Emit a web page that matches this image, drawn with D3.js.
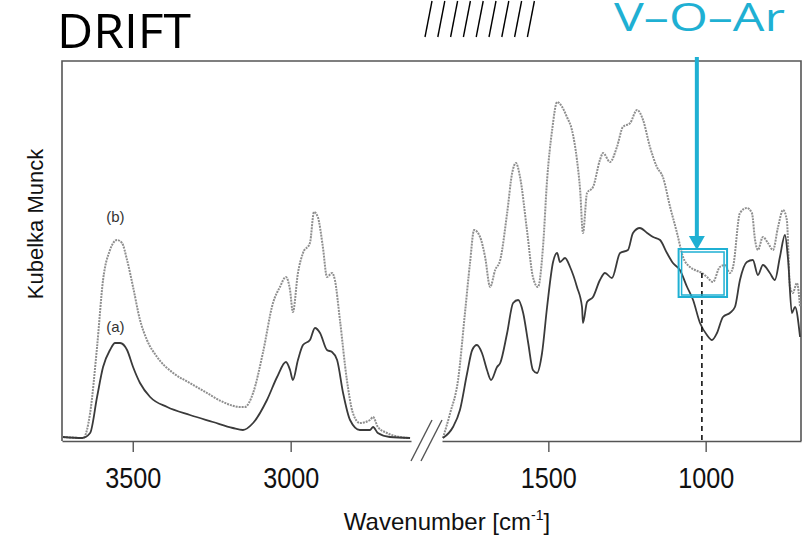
<!DOCTYPE html>
<html>
<head>
<meta charset="utf-8">
<script src="https://cdn.jsdelivr.net/npm/d3@7"></script>
<style>
  body { margin: 0; background: #fff; }
  svg { display: block; }
</style>
</head>
<body>
<svg id="chart" width="807" height="540"></svg>
<script>
// --- data (wavenumber in cm-1, Kubelka Munck in a.u.) ---
// high wavenumber panel
const leftWnA = [3721, 3660, 3635, 3613, 3594, 3572, 3556, 3540, 3518, 3499, 3477, 3445, 3391, 3319, 3246, 3183, 3151, 3119, 3075, 3043, 3015, 3002, 2993, 2977, 2961, 2939, 2923, 2907, 2885, 2869, 2853, 2834, 2812, 2781, 2749, 2739, 2724, 2686, 2622];
const leftKmA = [4, 3, 8, 44, 74, 91, 98, 98, 91, 74, 58, 44, 34, 26, 19, 13, 11, 18, 41, 64, 79, 71, 61, 81, 96, 101, 113, 108, 91, 89, 81, 48, 21, 11, 11, 14, 8, 4, 3];
const leftWnB = [3721, 3657, 3635, 3613, 3594, 3572, 3550, 3534, 3518, 3499, 3477, 3455, 3423, 3372, 3319, 3265, 3214, 3160, 3145, 3119, 3088, 3056, 3034, 3015, 3002, 2993, 2977, 2961, 2939, 2926, 2914, 2898, 2885, 2869, 2860, 2844, 2822, 2803, 2781, 2749, 2739, 2724, 2695, 2654, 2622];
const leftKmB = [4, 3, 28, 94, 161, 191, 201, 198, 181, 154, 121, 101, 84, 68, 58, 48, 39, 34, 34, 48, 88, 138, 154, 164, 151, 129, 168, 188, 198, 229, 224, 194, 164, 168, 161, 121, 61, 28, 18, 21, 24, 14, 8, 4, 3];

// fingerprint panel
const rightWnA = [1835, 1803, 1781, 1758, 1742, 1727, 1711, 1695, 1682, 1663, 1653, 1631, 1612, 1596, 1580, 1564, 1549, 1536, 1520, 1504, 1485, 1472, 1463, 1447, 1431, 1409, 1393, 1390, 1377, 1358, 1336, 1320, 1298, 1272, 1247, 1231, 1209, 1186, 1167, 1145, 1123, 1104, 1082, 1059, 1040, 1018, 996, 980, 964, 945, 923, 907, 891, 869, 850, 834, 818, 796, 780, 764, 748, 738, 726, 716, 700];
const rightKmA = [3, 14, 31, 68, 91, 96, 88, 71, 61, 74, 78, 108, 138, 141, 128, 98, 71, 68, 88, 134, 179, 188, 179, 183, 174, 154, 134, 118, 139, 144, 161, 168, 163, 188, 191, 208, 213, 208, 204, 201, 188, 178, 171, 154, 141, 118, 106, 101, 108, 124, 128, 134, 161, 179, 181, 166, 176, 168, 161, 184, 206, 181, 128, 134, 104];
const rightWnB = [1835, 1812, 1787, 1765, 1749, 1736, 1717, 1701, 1685, 1669, 1653, 1631, 1615, 1603, 1590, 1568, 1549, 1533, 1517, 1504, 1488, 1472, 1456, 1441, 1425, 1409, 1399, 1390, 1377, 1358, 1336, 1326, 1304, 1282, 1263, 1240, 1218, 1199, 1177, 1155, 1136, 1113, 1091, 1072, 1050, 1034, 1012, 996, 977, 955, 939, 923, 913, 891, 869, 853, 843, 834, 818, 802, 786, 770, 754, 742, 732, 723, 710, 700];
const rightKmB = [3, 28, 61, 128, 178, 211, 204, 184, 154, 171, 181, 228, 268, 278, 264, 211, 164, 154, 194, 261, 311, 339, 334, 324, 311, 281, 251, 208, 248, 254, 281, 288, 279, 294, 314, 318, 331, 321, 294, 274, 264, 234, 208, 184, 174, 171, 168, 164, 159, 174, 176, 168, 174, 228, 233, 228, 201, 191, 204, 198, 191, 214, 231, 221, 154, 148, 158, 134];

const leftTicks = [3500, 3000];
const rightTicks = [1500, 1000];

// V-O-Ar band marker
const voArWn = 1012;
const voArKm = 168;
const boxWn = [1086, 932];
const boxKm = [192, 144];
const arrowWn = 1028;

const cyan = '#1fb0d3';
const frame = '#555';

const svg = d3.select('#chart');

const xLeft = d3.scaleLinear().domain([3724, 2619]).range([62, 411]);
const xRight = d3.scaleLinear().domain([1838, 697]).range([442, 801]);
const y = d3.scaleLinear().domain([0, 380]).range([441, 61]);

// frame (left, top, right)
svg.append('path')
    .attr('d', `M${xLeft.range()[0]},${y(0)}V${y(380)}H${xRight.range()[1]}V${y(0)}`)
    .attr('fill', 'none')
    .attr('stroke', frame)
    .attr('stroke-width', 1.6);

function drawAxis(scale, ticks) {
    const g = svg.append('g')
        .attr('transform', `translate(0,${y(0)})`)
        .call(d3.axisBottom(scale)
            .tickValues(ticks)
            .tickFormat(d3.format('d'))
            .tickSize(11)
            .tickSizeOuter(0)
            .tickPadding(15));
    g.select('.domain').attr('stroke', frame).attr('stroke-width', 1.6);
    g.selectAll('.tick line').attr('stroke', frame).attr('stroke-width', 1.4);
    g.selectAll('.tick text')
        .attr('fill', '#111')
        .attr('font-family', 'Liberation Sans, Arial, sans-serif')
        .attr('font-size', 29)
        .attr('textLength', 56)
        .attr('lengthAdjust', 'spacingAndGlyphs');
}
drawAxis(xLeft, leftTicks);
drawAxis(xRight, rightTicks);

// axis break marks
[0, 10].forEach(d => {
    svg.append('line')
        .attr('x1', 411 + d).attr('y1', 461)
        .attr('x2', 432 + d).attr('y2', 420)
        .attr('stroke', frame)
        .attr('stroke-width', 1.4);
});

function drawSpectrum(scale, wn, km, solid) {
    const pts = wn.map((w, i) => [w, km[i]]);
    const line = d3.line()
        .x(d => scale(d[0]))
        .y(d => y(d[1]))
        .curve(d3.curveMonotoneX);
    const p = svg.append('path')
        .datum(pts)
        .attr('d', line)
        .attr('fill', 'none');
    if (solid) {
        p.attr('stroke', '#3a3a3a').attr('stroke-width', 1.8);
    } else {
        p.attr('stroke', '#8f8f8f').attr('stroke-width', 2).attr('stroke-dasharray', '2,1');
    }
}
drawSpectrum(xLeft, leftWnB, leftKmB, false);
drawSpectrum(xLeft, leftWnA, leftKmA, true);
drawSpectrum(xRight, rightWnB, rightKmB, false);
drawSpectrum(xRight, rightWnA, rightKmA, true);

// curve labels
svg.append('text')
    .attr('x', xLeft(3555)).attr('y', y(219))
    .attr('text-anchor', 'middle')
    .attr('font-family', 'Liberation Sans, Arial, sans-serif')
    .attr('font-size', 15)
    .attr('fill', '#333')
    .text('(b)');
svg.append('text')
    .attr('x', xLeft(3555)).attr('y', y(109))
    .attr('text-anchor', 'middle')
    .attr('font-family', 'Liberation Sans, Arial, sans-serif')
    .attr('font-size', 15)
    .attr('fill', '#333')
    .text('(a)');

// dashed marker at the V-O-Ar band
svg.append('line')
    .attr('x1', xRight(voArWn)).attr('x2', xRight(voArWn))
    .attr('y1', y(voArKm)).attr('y2', y(0))
    .attr('stroke', '#111')
    .attr('stroke-width', 1.6)
    .attr('stroke-dasharray', '5,4');

// highlight box (double outline)
const bx0 = xRight(boxWn[0]), bx1 = xRight(boxWn[1]);
const by0 = y(boxKm[0]), by1 = y(boxKm[1]);
svg.append('rect')
    .attr('x', bx0).attr('y', by0)
    .attr('width', bx1 - bx0).attr('height', by1 - by0)
    .attr('fill', 'none').attr('stroke', cyan).attr('stroke-width', 2);
svg.append('rect')
    .attr('x', bx0 + 3).attr('y', by0 + 3)
    .attr('width', bx1 - bx0 - 6).attr('height', by1 - by0 - 5)
    .attr('fill', 'none').attr('stroke', cyan).attr('stroke-width', 1.5);

// arrow from the label down to the box
const ax = xRight(arrowWn);
svg.append('line')
    .attr('x1', ax).attr('x2', ax)
    .attr('y1', 57).attr('y2', by0 - 12)
    .attr('stroke', cyan)
    .attr('stroke-width', 4);
svg.append('path')
    .attr('d', `M${ax - 8},${by0 - 13}L${ax + 8},${by0 - 13}L${ax},${by0 + 1}Z`)
    .attr('fill', cyan);

svg.append('text')
    .attr('x', 614).attr('y', 31)
    .attr('font-family', 'Open Sans, Noto Sans, sans-serif')
    .attr('font-size', 38)
    .attr('fill', cyan)
    .attr('textLength', 171)
    .attr('lengthAdjust', 'spacingAndGlyphs')
    .text('V\u2013O\u2013Ar');

// title and break hatching at the top
svg.append('text')
    .attr('x', 57).attr('y', 48)
    .attr('font-family', 'Open Sans, Noto Sans, sans-serif')
    .attr('font-size', 47)
    .attr('fill', '#000')
    .attr('textLength', 134)
    .attr('lengthAdjust', 'spacingAndGlyphs')
    .text('DRIFT');

d3.range(9).forEach(i => {
    svg.append('line')
        .attr('x1', 425 + i * 12.8).attr('y1', 37)
        .attr('x2', 432 + i * 12.8).attr('y2', 1)
        .attr('stroke', '#000')
        .attr('stroke-width', 1.4);
});

// axis titles
svg.append('text')
    .attr('transform', 'translate(43,224) rotate(-90)')
    .attr('text-anchor', 'middle')
    .attr('font-family', 'Liberation Sans, Arial, sans-serif')
    .attr('font-size', 22)
    .attr('fill', '#111')
    .text('Kubelka Munck');

const xt = svg.append('text')
    .attr('x', 447).attr('y', 530)
    .attr('text-anchor', 'middle')
    .attr('font-family', 'Liberation Sans, Arial, sans-serif')
    .attr('font-size', 24)
    .attr('fill', '#111');
xt.append('tspan').text('Wavenumber [cm');
xt.append('tspan').attr('font-size', 14).attr('dy', -10).text('-1');
xt.append('tspan').attr('dy', 10).text(']');
</script>
</body>
</html>
